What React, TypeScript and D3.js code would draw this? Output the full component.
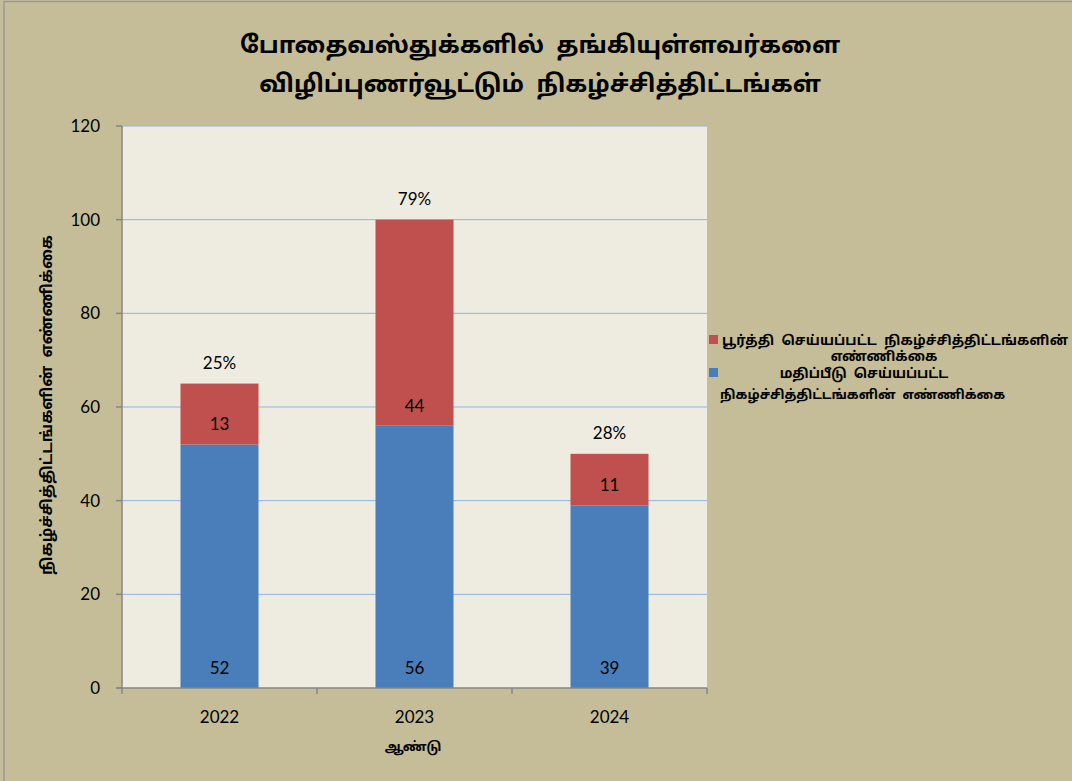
import React from "react";
import * as d3 from "d3";

const categories = ["2022", "2023", "2024"];
const evaluated = [52, 56, 39];
const completed = [13, 44, 11];
const percents = ["25%", "79%", "28%"];
const yTicks = [0, 20, 40, 60, 80, 100, 120];
const titleLines = ["போதைவஸ்துக்களில்  தங்கியுள்ளவர்களை", "விழிப்புணர்வூட்டும்  நிகழ்ச்சித்திட்டங்கள்"];
const yTitle = "நிகழ்ச்சித்திட்டங்களின்  எண்ணிக்கை";
const xTitle = "ஆண்டு";
const legendRed = ["பூர்த்தி  செய்யப்பட்ட  நிகழ்ச்சித்திட்டங்களின்", "எண்ணிக்கை"];
const legendBlue = ["மதிப்பீடு  செய்யப்பட்ட", "நிகழ்ச்சித்திட்டங்களின்  எண்ணிக்கை"];

const W = 1072, H = 781;
const plot = { left: 122, right: 707, top: 126, bottom: 688 };
const BLUE = "#4a7ebb";
const RED = "#c0504d";
const tamilFont = "'Noto Sans Tamil', 'Latha', 'Lohit Tamil', 'Noto Sans', sans-serif";
const numFont = "Lato, 'Open Sans', 'Liberation Sans', sans-serif";
const pre: React.CSSProperties = { whiteSpace: "pre" };

export default function App() {
  const x = d3.scaleBand().domain(categories).range([plot.left, plot.right]).paddingInner(0.6).paddingOuter(0.3);
  const xOuter = d3.scaleBand().domain(categories).range([plot.left, plot.right]);
  const y = d3.scaleLinear().domain([0, 120]).range([plot.bottom, plot.top]);
  const bw = x.bandwidth();
  return (
    <div style={{ position: "absolute", left: 0, top: 0 }}>
      <svg width={W} height={H} style={{ display: "block" }}>
        <rect x={0} y={0} width={W} height={H} fill="#c4bd97" />
        <line x1={4} y1={1} x2={4} y2={H} stroke="#9a9a9a" strokeWidth={1.5} />
        <line x1={4} y1={1.5} x2={W} y2={1.5} stroke="#9a9a9a" strokeWidth={1.5} />
        {titleLines.map((t, i) => (
          <text key={i} x={540} y={53 + i * 39} textAnchor="middle" fontFamily={tamilFont} fontWeight="bold" fontSize={24} fill="#000" style={pre}>{t}</text>
        ))}
        <rect x={plot.left} y={plot.top} width={plot.right - plot.left} height={plot.bottom - plot.top} fill="#eeece1" />
        {yTicks.filter(t => t > 0).map(t => (
          <line key={t} x1={plot.left} x2={plot.right} y1={y(t)} y2={y(t)} stroke="#8eb4e3" strokeWidth={1} />
        ))}
        {categories.map((c, i) => {
          const x0 = x(c)!;
          return (
            <g key={c}>
              <rect x={x0} y={y(evaluated[i])} width={bw} height={y(0) - y(evaluated[i])} fill={BLUE} />
              <rect x={x0} y={y(evaluated[i] + completed[i])} width={bw} height={y(evaluated[i]) - y(evaluated[i] + completed[i])} fill={RED} />
              <text x={x0 + bw / 2} y={y(0) - 14} textAnchor="middle" fontFamily={numFont} fontSize={17} fill="#000">{evaluated[i]}</text>
              <text x={x0 + bw / 2} y={y(evaluated[i]) - 14} textAnchor="middle" fontFamily={numFont} fontSize={17} fill="#000">{completed[i]}</text>
              <text x={x0 + bw / 2} y={y(evaluated[i] + completed[i]) - 15} textAnchor="middle" fontFamily={numFont} fontSize={17} fill="#000">{percents[i]}</text>
            </g>
          );
        })}
        <line x1={plot.left} x2={plot.left} y1={plot.top} y2={plot.bottom} stroke="#868686" strokeWidth={1.5} />
        <line x1={plot.left - 5} x2={plot.right} y1={plot.bottom} y2={plot.bottom} stroke="#868686" strokeWidth={1.5} />
        {yTicks.map(t => (
          <g key={t}>
            <line x1={plot.left - 6} x2={plot.left} y1={y(t)} y2={y(t)} stroke="#868686" strokeWidth={1.5} />
            <text x={plot.left - 22} y={y(t) + 6} textAnchor="end" fontFamily={numFont} fontSize={17} fill="#000">{t}</text>
          </g>
        ))}
        {categories.map(c => (
          <line key={"t" + c} x1={xOuter(c)!} x2={xOuter(c)!} y1={plot.bottom} y2={plot.bottom + 6} stroke="#868686" strokeWidth={1.5} />
        ))}
        <line x1={plot.right} x2={plot.right} y1={plot.bottom} y2={plot.bottom + 6} stroke="#868686" strokeWidth={1.5} />
        {categories.map(c => (
          <text key={"l" + c} x={xOuter(c)! + xOuter.bandwidth() / 2} y={723} textAnchor="middle" fontFamily={numFont} fontSize={17} fill="#000">{c}</text>
        ))}
        <text x={413} y={751} textAnchor="middle" fontFamily={tamilFont} fontWeight="bold" fontSize={13} fill="#000">{xTitle}</text>
        <text transform={`translate(52, ${405}) rotate(-90)`} textAnchor="middle" fontFamily={tamilFont} fontWeight="bold" fontSize={15.5} fill="#000" style={pre}>{yTitle}</text>
        <rect x={709} y={335} width={9} height={9} fill={RED} />
        <text x={722} y={345} fontFamily={tamilFont} fontWeight="bold" fontSize={13.5} fill="#000" style={pre} textLength={346} lengthAdjust="spacing">{legendRed[0]}</text>
        <text x={884} y={361} textAnchor="middle" fontFamily={tamilFont} fontWeight="bold" fontSize={13.5} fill="#000">{legendRed[1]}</text>
        <rect x={709} y={368} width={9} height={9} fill={BLUE} />
        <text x={864} y={378} textAnchor="middle" fontFamily={tamilFont} fontWeight="bold" fontSize={13.5} fill="#000" style={pre}>{legendBlue[0]}</text>
        <text x={720} y={399} fontFamily={tamilFont} fontWeight="bold" fontSize={13} fill="#000" style={pre}>{legendBlue[1]}</text>
      </svg>
    </div>
  );
}
